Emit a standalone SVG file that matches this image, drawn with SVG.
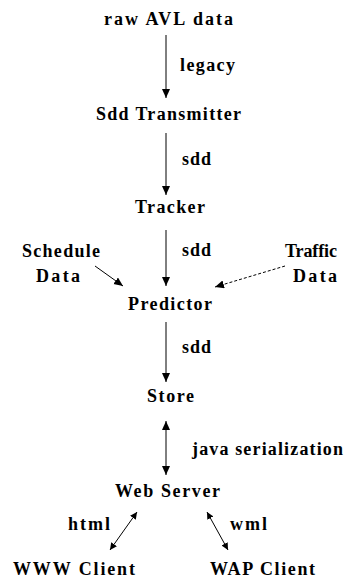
<svg xmlns="http://www.w3.org/2000/svg" width="346" height="578" viewBox="0 0 346 578">
<style>
.c{stroke:#000;stroke-width:1;fill:none}
.d{stroke-dasharray:3 2}
</style>
<defs>
<marker id="ah" markerUnits="userSpaceOnUse" markerWidth="10" markerHeight="10" refX="9" refY="4" orient="auto-start-reverse"><path d="M0,0 L9,4 L0,8 z" fill="#000"/></marker>
<marker id="as" markerUnits="userSpaceOnUse" markerWidth="8" markerHeight="8" refX="7" refY="3.5" orient="auto-start-reverse"><path d="M0,0 L7,3.5 L0,7 z" fill="#000"/></marker>
</defs>
<rect width="346" height="578" fill="#fff"/>
<g font-family="Liberation Serif, serif" font-weight="bold" font-size="18" fill="#000">
<g id="connectors">
<line class="c" x1="166" y1="35" x2="166" y2="98" marker-end="url(#ah)"/>
<line class="c" x1="166" y1="133" x2="166" y2="195" marker-end="url(#ah)"/>
<line class="c" x1="166" y1="230" x2="166" y2="286" marker-end="url(#ah)"/>
<line class="c" x1="95" y1="266" x2="123" y2="286" marker-end="url(#ah)"/>
<line class="c d" x1="285" y1="266" x2="215" y2="287" marker-end="url(#ah)"/>
<line class="c" x1="166" y1="322" x2="166" y2="382" marker-end="url(#ah)"/>
<line class="c" x1="166" y1="421" x2="166" y2="475" marker-start="url(#ah)" marker-end="url(#ah)"/>
<line class="c" x1="137" y1="512" x2="110" y2="550" marker-start="url(#as)" marker-end="url(#as)"/>
<line class="c" x1="207" y1="512" x2="228" y2="550" marker-start="url(#as)" marker-end="url(#as)"/>
<text x="180" y="71" textLength="55" lengthAdjust="spacing">legacy</text>
<text x="182" y="165" textLength="29" lengthAdjust="spacing">sdd</text>
<text x="182" y="256" textLength="29" lengthAdjust="spacing">sdd</text>
<text x="182" y="353" textLength="29" lengthAdjust="spacing">sdd</text>
<text x="192" y="455" textLength="151" lengthAdjust="spacing">java serialization</text>
<text x="68" y="530" textLength="42" lengthAdjust="spacing">html</text>
<text x="230" y="530" textLength="37" lengthAdjust="spacing">wml</text>
</g>
<g id="raw"><text x="104" y="25" textLength="129" lengthAdjust="spacing">raw AVL data</text></g>
<g id="sddtx"><text x="96" y="120" textLength="145" lengthAdjust="spacing">Sdd Transmitter</text></g>
<g id="tracker"><text x="135" y="213" textLength="70" lengthAdjust="spacing">Tracker</text></g>
<g id="schedule"><text x="22" y="257" textLength="78" lengthAdjust="spacing">Schedule</text><text x="36" y="282" textLength="44" lengthAdjust="spacing">Data</text></g>
<g id="traffic"><text x="285" y="257" textLength="52" lengthAdjust="spacing">Traffic</text><text x="293" y="282" textLength="44" lengthAdjust="spacing">Data</text></g>
<g id="predictor"><text x="128" y="310" textLength="84" lengthAdjust="spacing">Predictor</text></g>
<g id="store"><text x="147" y="402" textLength="47" lengthAdjust="spacing">Store</text></g>
<g id="webserver"><text x="115" y="497" textLength="105" lengthAdjust="spacing">Web Server</text></g>
<g id="www"><text x="13" y="575" textLength="122" lengthAdjust="spacing">WWW Client</text></g>
<g id="wap"><text x="210" y="575" textLength="105" lengthAdjust="spacing">WAP Client</text></g>
</g>
</svg>
